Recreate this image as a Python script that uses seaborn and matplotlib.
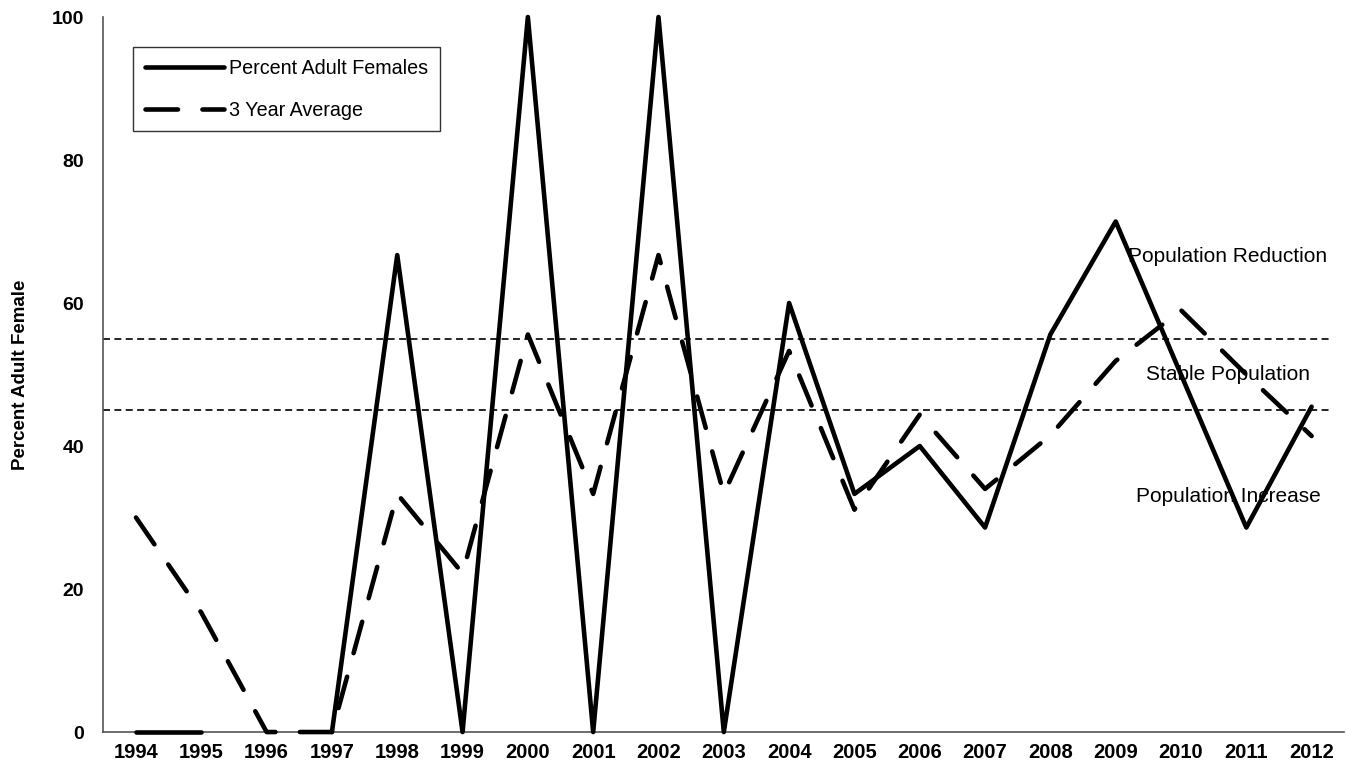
import numpy as np
import pandas as pd
import matplotlib
matplotlib.use("Agg")
import matplotlib.pyplot as plt
from matplotlib.ticker import MultipleLocator, FixedLocator, NullFormatter
import seaborn as sns

# ---- data -------------------------------------------------------------
years = [str(y) for y in range(1994, 2013)]
pct_adult_females = [0, 0, np.nan, 0, 66.7, 0, 100, 0, 100, 0,
                     60, 33.3, 40, 28.6, 55.6, 71.4, 50, 28.6, 45.5]
three_year_avg = [30, 16.7, 0, 0, 33.3, 22.2, 55.6, 33.3, 66.7, 33.3,
                  53.3, 31.1, 44.4, 34.0, 41.5, 51.9, 59.0, 50.0, 41.4]
upper_threshold = 55
lower_threshold = 45
zone_labels = ["Population Reduction", "Stable Population", "Population Increase"]
zone_label_values = [66.5, 50, 33]
series_names = ["Percent Adult Females", "3 Year Average"]

# ---- style ------------------------------------------------------------
sns.set_style("white")
plt.rcParams["font.family"] = ["Liberation Sans", "DejaVu Sans"]
plt.rcParams["lines.scale_dashes"] = False
for key in ("text.color", "axes.labelcolor", "xtick.labelcolor", "ytick.labelcolor"):
    plt.rcParams[key] = "black"

pos = np.arange(len(years))
df_f = pd.DataFrame({"pos": pos, "value": pct_adult_females})
# split the observed series where a year is missing so the line breaks there
df_f["segment"] = df_f["value"].isna().cumsum()
df_f = df_f.dropna()
df_a = pd.DataFrame({"pos": pos, "value": three_year_avg})

fig = plt.figure(figsize=(13.49, 7.73), dpi=100)
ax = fig.add_axes([0.0766, 0.053, 0.9199, 0.925])

line_kw = dict(color="black", linewidth=3.3, clip_on=False, legend=False,
               zorder=3)
sns.lineplot(data=df_f, x="pos", y="value", units="segment", estimator=None,
             ax=ax, solid_capstyle="round", solid_joinstyle="round", **line_kw)
n_solid = len(ax.lines)
sns.lineplot(data=df_a, x="pos", y="value", ax=ax,
             linestyle=(0, (23.4, 17.6)), dash_capstyle="round",
             dash_joinstyle="round", **line_kw)
legend_handles = [ax.lines[0], ax.lines[n_solid]]

# threshold lines
for yv in (upper_threshold, lower_threshold):
    ax.axhline(yv, xmin=0, xmax=0.988, color="black", linewidth=1.2,
               linestyle=(0, (5.0, 3.2)), zorder=1)

for txt, yv in zip(zone_labels, zone_label_values):
    ax.text(16.72, yv, txt, ha="center", va="center", fontsize=15,
            color="black")

# ---- axes -------------------------------------------------------------
ax.set_xlim(-0.5, len(years) - 0.5)
ax.set_ylim(0, 100)

ax.xaxis.set_major_locator(FixedLocator(np.arange(-0.5, len(years), 1.0)))
ax.xaxis.set_major_formatter(NullFormatter())
ax.set_xticks(pos, years, minor=True)
ax.tick_params(axis="x", which="major", direction="out", length=6,
               width=1, color="#555555")
ax.tick_params(axis="x", which="minor", length=0, pad=8, labelsize=14.5)
for lab in ax.get_xticklabels(minor=True):
    lab.set_fontweight("bold")

ax.yaxis.set_major_locator(MultipleLocator(20))
ax.yaxis.set_minor_locator(MultipleLocator(5))
ax.tick_params(axis="y", which="both", direction="out", length=5,
               width=1, color="#555555", labelsize=14, pad=9)
for lab in ax.get_yticklabels():
    lab.set_fontweight("bold")

sns.despine(ax=ax)
for side in ("left", "bottom"):
    ax.spines[side].set_color("#555555")
    ax.spines[side].set_linewidth(1.2)

ax.set_xlabel("")
ax.set_ylabel("Percent Adult Female", fontsize=13.5, fontweight="bold",
              labelpad=16)

leg = ax.legend(legend_handles, series_names, loc="upper left",
                bbox_to_anchor=(0.0240, 0.958),
                fontsize=14.2, handlelength=4.0, handletextpad=0.25,
                labelspacing=1.15, borderpad=0.6, frameon=True,
                fancybox=False, borderaxespad=0)
leg.get_frame().set_edgecolor("black")
leg.get_frame().set_linewidth(1.0)

fig.savefig("out.png", dpi=100)
